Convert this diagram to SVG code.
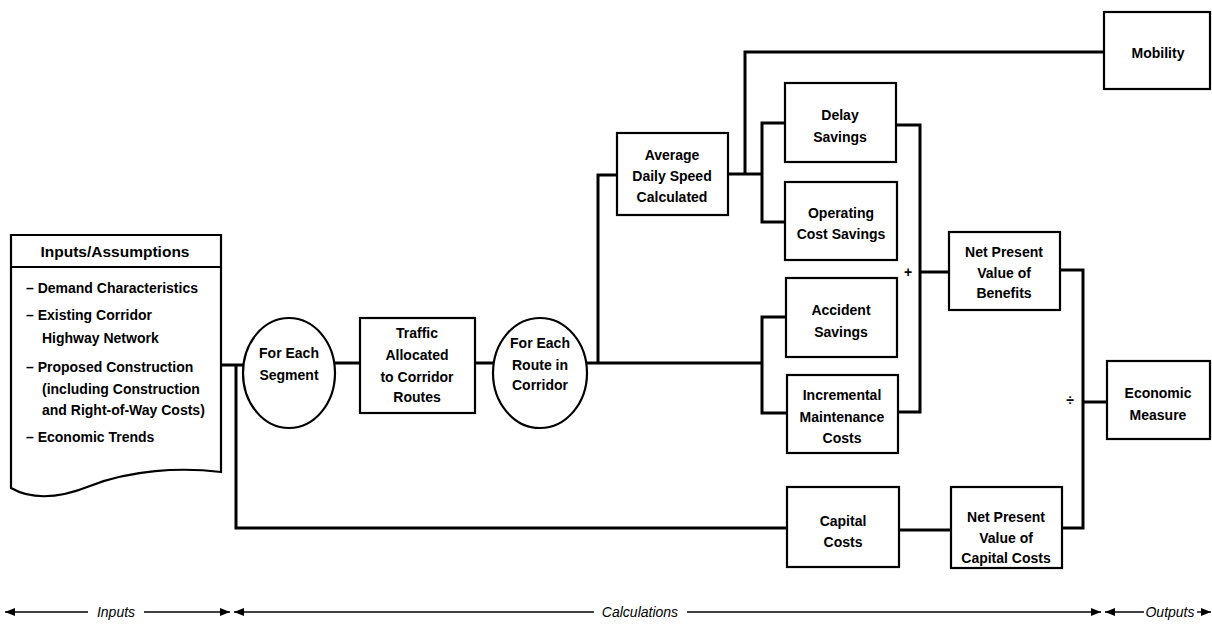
<svg xmlns="http://www.w3.org/2000/svg" width="1212" height="635" viewBox="0 0 1212 635">
<style>
.box{fill:#fff;stroke:#000;stroke-width:2.2}
.t{font-family:"Liberation Sans",Arial,sans-serif;font-weight:bold;font-size:14px;fill:#000;text-anchor:middle}
.l{font-family:"Liberation Sans",Arial,sans-serif;font-weight:bold;font-size:14px;fill:#000}
.h{font-family:"Liberation Sans",Arial,sans-serif;font-weight:bold;font-size:15.5px;fill:#000;text-anchor:middle}
.c{fill:none;stroke:#000;stroke-width:3}
.a{fill:none;stroke:#000;stroke-width:1.4}
.i{font-family:"Liberation Sans",Arial,sans-serif;font-style:italic;font-size:14px;fill:#000;text-anchor:middle}
</style>
<defs>
<marker id="ah" viewBox="0 0 10 8" refX="10" refY="4" markerWidth="10" markerHeight="8" markerUnits="userSpaceOnUse" orient="auto-start-reverse">
<path d="M0,0 L10,4 L0,8 Z" fill="#000"/>
</marker>
</defs>
<rect width="1212" height="635" fill="#fff"/>
<g id="connectors">
<path class="c" d="M221,365 H245"/>
<path class="c" d="M236,365 V528 H787"/>
<path class="c" d="M335,363 H360"/>
<path class="c" d="M475,363 H493"/>
<path class="c" d="M587,363 H762"/>
<path class="c" d="M598,363 V175 H617"/>
<path class="c" d="M728,174 H762"/>
<path class="c" d="M785,123 H762 V222 H785"/>
<path class="c" d="M745,174 V52 H1104"/>
<path class="c" d="M786,317 H762 V413 H787"/>
<path class="c" d="M896,125 H920 V412 H898"/>
<path class="c" d="M920,272 H949"/>
<path class="c" d="M1060,270 H1083 V528 H1062"/>
<path class="c" d="M1083,402 H1107"/>
<path class="c" d="M899,530 H951"/>
<text class="t" x="908" y="277">+</text>
<text class="t" x="1070" y="405">÷</text>
</g>
<g id="inputs">
<path class="box" d="M11,235 H221 V472 C180,467 130,470 90,486 C60,498 32,500 11,488 Z"/>
<line x1="11" y1="267" x2="221" y2="267" stroke="#000" stroke-width="2.2"/>
<text class="h" x="115" y="257">Inputs/Assumptions</text>
<text class="l" x="26" y="293">– Demand Characteristics</text>
<text class="l" x="26" y="320">– Existing Corridor</text>
<text class="l" x="42" y="343">Highway Network</text>
<text class="l" x="26" y="372">– Proposed Construction</text>
<text class="l" x="42" y="394">(including Construction</text>
<text class="l" x="42" y="415">and Right-of-Way Costs)</text>
<text class="l" x="26" y="442">– Economic Trends</text>
</g>
<g id="segment">
<ellipse class="box" cx="289" cy="373" rx="46" ry="55"/>
<text class="t" x="289" y="358">For Each</text>
<text class="t" x="289" y="380">Segment</text>
</g>
<g id="traffic">
<rect class="box" x="360" y="318" width="115" height="95"/>
<text class="t" x="417" y="338">Traffic</text>
<text class="t" x="417" y="360">Allocated</text>
<text class="t" x="417" y="382">to Corridor</text>
<text class="t" x="417" y="402">Routes</text>
</g>
<g id="route">
<ellipse class="box" cx="540" cy="373" rx="47" ry="55"/>
<text class="t" x="540" y="348">For Each</text>
<text class="t" x="540" y="370">Route in</text>
<text class="t" x="540" y="390">Corridor</text>
</g>
<g id="speed">
<rect class="box" x="617" y="133" width="111" height="82"/>
<text class="t" x="672" y="160">Average</text>
<text class="t" x="672" y="181">Daily Speed</text>
<text class="t" x="672" y="202">Calculated</text>
</g>
<g id="mobility">
<rect class="box" x="1104" y="12" width="106" height="77"/>
<text class="t" x="1158" y="58">Mobility</text>
</g>
<g id="delay">
<rect class="box" x="785" y="83" width="111" height="79"/>
<text class="t" x="840" y="120">Delay</text>
<text class="t" x="840" y="142">Savings</text>
</g>
<g id="operating">
<rect class="box" x="785" y="182" width="112" height="78"/>
<text class="t" x="841" y="218">Operating</text>
<text class="t" x="841" y="239">Cost Savings</text>
</g>
<g id="accident">
<rect class="box" x="786" y="278" width="111" height="79"/>
<text class="t" x="841" y="315">Accident</text>
<text class="t" x="841" y="337">Savings</text>
</g>
<g id="maintenance">
<rect class="box" x="787" y="375" width="111" height="78"/>
<text class="t" x="842" y="400">Incremental</text>
<text class="t" x="842" y="422">Maintenance</text>
<text class="t" x="842" y="443">Costs</text>
</g>
<g id="npv-benefits">
<rect class="box" x="949" y="232" width="111" height="78"/>
<text class="t" x="1004" y="257">Net Present</text>
<text class="t" x="1004" y="278">Value of</text>
<text class="t" x="1004" y="298">Benefits</text>
</g>
<g id="economic">
<rect class="box" x="1107" y="361" width="103" height="78"/>
<text class="t" x="1158" y="398">Economic</text>
<text class="t" x="1158" y="420">Measure</text>
</g>
<g id="capital">
<rect class="box" x="787" y="487" width="112" height="80"/>
<text class="t" x="843" y="526">Capital</text>
<text class="t" x="843" y="547">Costs</text>
</g>
<g id="npv-capital">
<rect class="box" x="951" y="487" width="111" height="81"/>
<text class="t" x="1006" y="522">Net Present</text>
<text class="t" x="1006" y="543">Value of</text>
<text class="t" x="1006" y="563">Capital Costs</text>
</g>
<g id="phases">
<line class="a" x1="88" y1="612" x2="5" y2="612" marker-end="url(#ah)"/>
<text class="i" x="116" y="617">Inputs</text>
<line class="a" x1="144" y1="612" x2="230" y2="612" marker-end="url(#ah)"/>
<line class="a" x1="594" y1="612" x2="234" y2="612" marker-end="url(#ah)"/>
<text class="i" x="640" y="617">Calculations</text>
<line class="a" x1="687" y1="612" x2="1101" y2="612" marker-end="url(#ah)"/>
<line class="a" x1="1144" y1="612" x2="1105" y2="612" marker-end="url(#ah)"/>
<text class="i" x="1170" y="617">Outputs</text>
<line class="a" x1="1197" y1="612" x2="1211" y2="612" marker-end="url(#ah)"/>
</g>
</svg>
